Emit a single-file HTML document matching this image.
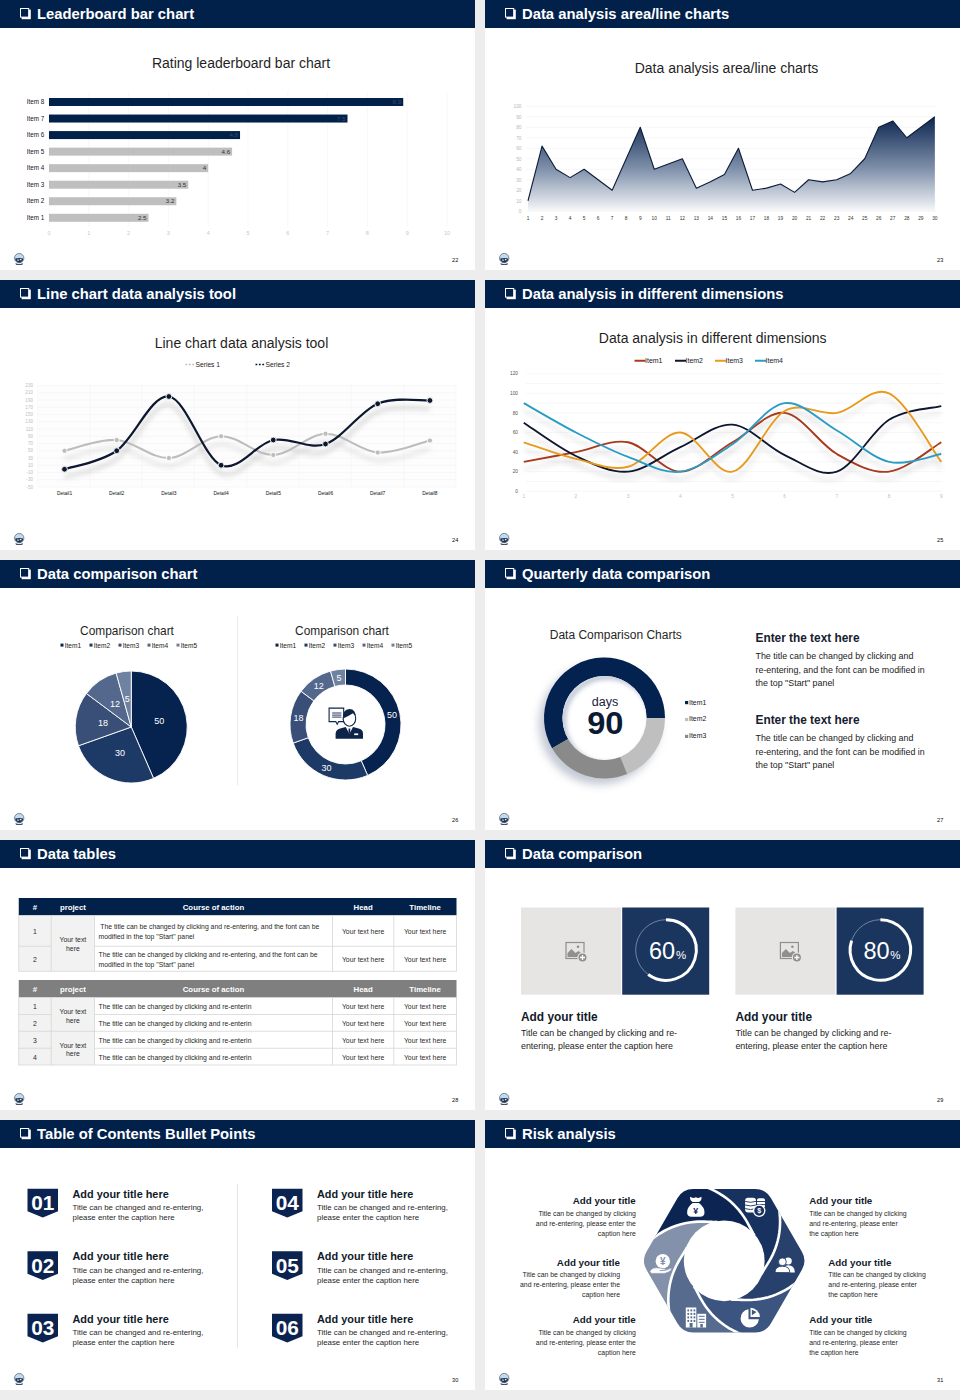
<!DOCTYPE html><html><head><meta charset="utf-8"><style>html,body{margin:0;padding:0;background:#ededed;}svg{display:block;}</style></head><body><svg width="960" height="1400" viewBox="0 0 960 1400" font-family="Liberation Sans, sans-serif">
<rect width="960" height="1400" fill="#ededed"/>
<rect x="0" y="0" width="475" height="270" fill="#fff"/>
<rect x="0" y="0" width="475" height="28" fill="#01214b"/>
<rect x="21.6" y="9.6" width="9.2" height="9.6" fill="#fff"/>
<rect x="20.5" y="8.5" width="8.2" height="8.6" fill="#01214b" stroke="#fff" stroke-width="1"/>
<text x="37" y="19.3" font-size="14.8" fill="#fff" text-anchor="start" font-weight="bold" >Leaderboard bar chart</text>
<text x="455.2" y="262.2" font-size="5.6" fill="#0a0a0a" text-anchor="middle" font-weight="normal" >22</text>
<g transform="translate(14.2,252.9)"><circle cx="5" cy="5.2" r="4.7" fill="#c3d9ee" stroke="#62707e" stroke-width="0.8"/><path d="M1 5.6 Q5 4.6 9 5.6 L8.6 7.6 Q7 9.6 5 9.8 Q3 9.6 1.4 7.6 Z" fill="#1e3352"/><path d="M3 6.6 h1.6 v1.2 h-1.6z M5.6 6.2 h1.6 v1.1 h-1.6z" fill="#e8f0f8"/><path d="M1.2 10.3 L5 11.3 L8.8 10.3 L8.2 11.8 L5 12.1 L1.8 11.8 Z" fill="#243450"/></g>
<rect x="485" y="0" width="475" height="270" fill="#fff"/>
<rect x="485" y="0" width="475" height="28" fill="#01214b"/>
<rect x="506.6" y="9.6" width="9.2" height="9.6" fill="#fff"/>
<rect x="505.5" y="8.5" width="8.2" height="8.6" fill="#01214b" stroke="#fff" stroke-width="1"/>
<text x="522" y="19.3" font-size="14.8" fill="#fff" text-anchor="start" font-weight="bold" >Data analysis area/line charts</text>
<text x="940.2" y="262.2" font-size="5.6" fill="#0a0a0a" text-anchor="middle" font-weight="normal" >23</text>
<g transform="translate(499.2,252.9)"><circle cx="5" cy="5.2" r="4.7" fill="#c3d9ee" stroke="#62707e" stroke-width="0.8"/><path d="M1 5.6 Q5 4.6 9 5.6 L8.6 7.6 Q7 9.6 5 9.8 Q3 9.6 1.4 7.6 Z" fill="#1e3352"/><path d="M3 6.6 h1.6 v1.2 h-1.6z M5.6 6.2 h1.6 v1.1 h-1.6z" fill="#e8f0f8"/><path d="M1.2 10.3 L5 11.3 L8.8 10.3 L8.2 11.8 L5 12.1 L1.8 11.8 Z" fill="#243450"/></g>
<rect x="0" y="280" width="475" height="270" fill="#fff"/>
<rect x="0" y="280" width="475" height="28" fill="#01214b"/>
<rect x="21.6" y="289.6" width="9.2" height="9.6" fill="#fff"/>
<rect x="20.5" y="288.5" width="8.2" height="8.6" fill="#01214b" stroke="#fff" stroke-width="1"/>
<text x="37" y="299.3" font-size="14.8" fill="#fff" text-anchor="start" font-weight="bold" >Line chart data analysis tool</text>
<text x="455.2" y="542.2" font-size="5.6" fill="#0a0a0a" text-anchor="middle" font-weight="normal" >24</text>
<g transform="translate(14.2,532.9)"><circle cx="5" cy="5.2" r="4.7" fill="#c3d9ee" stroke="#62707e" stroke-width="0.8"/><path d="M1 5.6 Q5 4.6 9 5.6 L8.6 7.6 Q7 9.6 5 9.8 Q3 9.6 1.4 7.6 Z" fill="#1e3352"/><path d="M3 6.6 h1.6 v1.2 h-1.6z M5.6 6.2 h1.6 v1.1 h-1.6z" fill="#e8f0f8"/><path d="M1.2 10.3 L5 11.3 L8.8 10.3 L8.2 11.8 L5 12.1 L1.8 11.8 Z" fill="#243450"/></g>
<rect x="485" y="280" width="475" height="270" fill="#fff"/>
<rect x="485" y="280" width="475" height="28" fill="#01214b"/>
<rect x="506.6" y="289.6" width="9.2" height="9.6" fill="#fff"/>
<rect x="505.5" y="288.5" width="8.2" height="8.6" fill="#01214b" stroke="#fff" stroke-width="1"/>
<text x="522" y="299.3" font-size="14.8" fill="#fff" text-anchor="start" font-weight="bold" >Data analysis in different dimensions</text>
<text x="940.2" y="542.2" font-size="5.6" fill="#0a0a0a" text-anchor="middle" font-weight="normal" >25</text>
<g transform="translate(499.2,532.9)"><circle cx="5" cy="5.2" r="4.7" fill="#c3d9ee" stroke="#62707e" stroke-width="0.8"/><path d="M1 5.6 Q5 4.6 9 5.6 L8.6 7.6 Q7 9.6 5 9.8 Q3 9.6 1.4 7.6 Z" fill="#1e3352"/><path d="M3 6.6 h1.6 v1.2 h-1.6z M5.6 6.2 h1.6 v1.1 h-1.6z" fill="#e8f0f8"/><path d="M1.2 10.3 L5 11.3 L8.8 10.3 L8.2 11.8 L5 12.1 L1.8 11.8 Z" fill="#243450"/></g>
<rect x="0" y="560" width="475" height="270" fill="#fff"/>
<rect x="0" y="560" width="475" height="28" fill="#01214b"/>
<rect x="21.6" y="569.6" width="9.2" height="9.6" fill="#fff"/>
<rect x="20.5" y="568.5" width="8.2" height="8.6" fill="#01214b" stroke="#fff" stroke-width="1"/>
<text x="37" y="579.3" font-size="14.8" fill="#fff" text-anchor="start" font-weight="bold" >Data comparison chart</text>
<text x="455.2" y="822.2" font-size="5.6" fill="#0a0a0a" text-anchor="middle" font-weight="normal" >26</text>
<g transform="translate(14.2,812.9)"><circle cx="5" cy="5.2" r="4.7" fill="#c3d9ee" stroke="#62707e" stroke-width="0.8"/><path d="M1 5.6 Q5 4.6 9 5.6 L8.6 7.6 Q7 9.6 5 9.8 Q3 9.6 1.4 7.6 Z" fill="#1e3352"/><path d="M3 6.6 h1.6 v1.2 h-1.6z M5.6 6.2 h1.6 v1.1 h-1.6z" fill="#e8f0f8"/><path d="M1.2 10.3 L5 11.3 L8.8 10.3 L8.2 11.8 L5 12.1 L1.8 11.8 Z" fill="#243450"/></g>
<rect x="485" y="560" width="475" height="270" fill="#fff"/>
<rect x="485" y="560" width="475" height="28" fill="#01214b"/>
<rect x="506.6" y="569.6" width="9.2" height="9.6" fill="#fff"/>
<rect x="505.5" y="568.5" width="8.2" height="8.6" fill="#01214b" stroke="#fff" stroke-width="1"/>
<text x="522" y="579.3" font-size="14.8" fill="#fff" text-anchor="start" font-weight="bold" >Quarterly data comparison</text>
<text x="940.2" y="822.2" font-size="5.6" fill="#0a0a0a" text-anchor="middle" font-weight="normal" >27</text>
<g transform="translate(499.2,812.9)"><circle cx="5" cy="5.2" r="4.7" fill="#c3d9ee" stroke="#62707e" stroke-width="0.8"/><path d="M1 5.6 Q5 4.6 9 5.6 L8.6 7.6 Q7 9.6 5 9.8 Q3 9.6 1.4 7.6 Z" fill="#1e3352"/><path d="M3 6.6 h1.6 v1.2 h-1.6z M5.6 6.2 h1.6 v1.1 h-1.6z" fill="#e8f0f8"/><path d="M1.2 10.3 L5 11.3 L8.8 10.3 L8.2 11.8 L5 12.1 L1.8 11.8 Z" fill="#243450"/></g>
<rect x="0" y="840" width="475" height="270" fill="#fff"/>
<rect x="0" y="840" width="475" height="28" fill="#01214b"/>
<rect x="21.6" y="849.6" width="9.2" height="9.6" fill="#fff"/>
<rect x="20.5" y="848.5" width="8.2" height="8.6" fill="#01214b" stroke="#fff" stroke-width="1"/>
<text x="37" y="859.3" font-size="14.8" fill="#fff" text-anchor="start" font-weight="bold" >Data tables</text>
<text x="455.2" y="1102.2" font-size="5.6" fill="#0a0a0a" text-anchor="middle" font-weight="normal" >28</text>
<g transform="translate(14.2,1092.9)"><circle cx="5" cy="5.2" r="4.7" fill="#c3d9ee" stroke="#62707e" stroke-width="0.8"/><path d="M1 5.6 Q5 4.6 9 5.6 L8.6 7.6 Q7 9.6 5 9.8 Q3 9.6 1.4 7.6 Z" fill="#1e3352"/><path d="M3 6.6 h1.6 v1.2 h-1.6z M5.6 6.2 h1.6 v1.1 h-1.6z" fill="#e8f0f8"/><path d="M1.2 10.3 L5 11.3 L8.8 10.3 L8.2 11.8 L5 12.1 L1.8 11.8 Z" fill="#243450"/></g>
<rect x="485" y="840" width="475" height="270" fill="#fff"/>
<rect x="485" y="840" width="475" height="28" fill="#01214b"/>
<rect x="506.6" y="849.6" width="9.2" height="9.6" fill="#fff"/>
<rect x="505.5" y="848.5" width="8.2" height="8.6" fill="#01214b" stroke="#fff" stroke-width="1"/>
<text x="522" y="859.3" font-size="14.8" fill="#fff" text-anchor="start" font-weight="bold" >Data comparison</text>
<text x="940.2" y="1102.2" font-size="5.6" fill="#0a0a0a" text-anchor="middle" font-weight="normal" >29</text>
<g transform="translate(499.2,1092.9)"><circle cx="5" cy="5.2" r="4.7" fill="#c3d9ee" stroke="#62707e" stroke-width="0.8"/><path d="M1 5.6 Q5 4.6 9 5.6 L8.6 7.6 Q7 9.6 5 9.8 Q3 9.6 1.4 7.6 Z" fill="#1e3352"/><path d="M3 6.6 h1.6 v1.2 h-1.6z M5.6 6.2 h1.6 v1.1 h-1.6z" fill="#e8f0f8"/><path d="M1.2 10.3 L5 11.3 L8.8 10.3 L8.2 11.8 L5 12.1 L1.8 11.8 Z" fill="#243450"/></g>
<rect x="0" y="1120" width="475" height="270" fill="#fff"/>
<rect x="0" y="1120" width="475" height="28" fill="#01214b"/>
<rect x="21.6" y="1129.6" width="9.2" height="9.6" fill="#fff"/>
<rect x="20.5" y="1128.5" width="8.2" height="8.6" fill="#01214b" stroke="#fff" stroke-width="1"/>
<text x="37" y="1139.3" font-size="14.8" fill="#fff" text-anchor="start" font-weight="bold" >Table of Contents Bullet Points</text>
<text x="455.2" y="1382.2" font-size="5.6" fill="#0a0a0a" text-anchor="middle" font-weight="normal" >30</text>
<g transform="translate(14.2,1372.9)"><circle cx="5" cy="5.2" r="4.7" fill="#c3d9ee" stroke="#62707e" stroke-width="0.8"/><path d="M1 5.6 Q5 4.6 9 5.6 L8.6 7.6 Q7 9.6 5 9.8 Q3 9.6 1.4 7.6 Z" fill="#1e3352"/><path d="M3 6.6 h1.6 v1.2 h-1.6z M5.6 6.2 h1.6 v1.1 h-1.6z" fill="#e8f0f8"/><path d="M1.2 10.3 L5 11.3 L8.8 10.3 L8.2 11.8 L5 12.1 L1.8 11.8 Z" fill="#243450"/></g>
<rect x="485" y="1120" width="475" height="270" fill="#fff"/>
<rect x="485" y="1120" width="475" height="28" fill="#01214b"/>
<rect x="506.6" y="1129.6" width="9.2" height="9.6" fill="#fff"/>
<rect x="505.5" y="1128.5" width="8.2" height="8.6" fill="#01214b" stroke="#fff" stroke-width="1"/>
<text x="522" y="1139.3" font-size="14.8" fill="#fff" text-anchor="start" font-weight="bold" >Risk analysis</text>
<text x="940.2" y="1382.2" font-size="5.6" fill="#0a0a0a" text-anchor="middle" font-weight="normal" >31</text>
<g transform="translate(499.2,1372.9)"><circle cx="5" cy="5.2" r="4.7" fill="#c3d9ee" stroke="#62707e" stroke-width="0.8"/><path d="M1 5.6 Q5 4.6 9 5.6 L8.6 7.6 Q7 9.6 5 9.8 Q3 9.6 1.4 7.6 Z" fill="#1e3352"/><path d="M3 6.6 h1.6 v1.2 h-1.6z M5.6 6.2 h1.6 v1.1 h-1.6z" fill="#e8f0f8"/><path d="M1.2 10.3 L5 11.3 L8.8 10.3 L8.2 11.8 L5 12.1 L1.8 11.8 Z" fill="#243450"/></g>
<g transform="translate(0,0)">
<text x="241" y="67.5" font-size="14" fill="#1f1f1f" text-anchor="middle" font-weight="normal" >Rating leaderboard bar chart</text>
<line x1="49" y1="92" x2="49" y2="227" stroke="#f6f6f6" stroke-width="0.8"/>
<text x="49" y="235" font-size="5.5" fill="#c8c8c8" text-anchor="middle" font-weight="normal" >0</text>
<line x1="88.8" y1="92" x2="88.8" y2="227" stroke="#f6f6f6" stroke-width="0.8"/>
<text x="88.8" y="235" font-size="5.5" fill="#c8c8c8" text-anchor="middle" font-weight="normal" >1</text>
<line x1="128.6" y1="92" x2="128.6" y2="227" stroke="#f6f6f6" stroke-width="0.8"/>
<text x="128.6" y="235" font-size="5.5" fill="#c8c8c8" text-anchor="middle" font-weight="normal" >2</text>
<line x1="168.4" y1="92" x2="168.4" y2="227" stroke="#f6f6f6" stroke-width="0.8"/>
<text x="168.4" y="235" font-size="5.5" fill="#c8c8c8" text-anchor="middle" font-weight="normal" >3</text>
<line x1="208.2" y1="92" x2="208.2" y2="227" stroke="#f6f6f6" stroke-width="0.8"/>
<text x="208.2" y="235" font-size="5.5" fill="#c8c8c8" text-anchor="middle" font-weight="normal" >4</text>
<line x1="248" y1="92" x2="248" y2="227" stroke="#f6f6f6" stroke-width="0.8"/>
<text x="248" y="235" font-size="5.5" fill="#c8c8c8" text-anchor="middle" font-weight="normal" >5</text>
<line x1="287.8" y1="92" x2="287.8" y2="227" stroke="#f6f6f6" stroke-width="0.8"/>
<text x="287.8" y="235" font-size="5.5" fill="#c8c8c8" text-anchor="middle" font-weight="normal" >6</text>
<line x1="327.6" y1="92" x2="327.6" y2="227" stroke="#f6f6f6" stroke-width="0.8"/>
<text x="327.6" y="235" font-size="5.5" fill="#c8c8c8" text-anchor="middle" font-weight="normal" >7</text>
<line x1="367.4" y1="92" x2="367.4" y2="227" stroke="#f6f6f6" stroke-width="0.8"/>
<text x="367.4" y="235" font-size="5.5" fill="#c8c8c8" text-anchor="middle" font-weight="normal" >8</text>
<line x1="407.2" y1="92" x2="407.2" y2="227" stroke="#f6f6f6" stroke-width="0.8"/>
<text x="407.2" y="235" font-size="5.5" fill="#c8c8c8" text-anchor="middle" font-weight="normal" >9</text>
<line x1="447" y1="92" x2="447" y2="227" stroke="#f6f6f6" stroke-width="0.8"/>
<text x="447" y="235" font-size="5.5" fill="#c8c8c8" text-anchor="middle" font-weight="normal" >10</text>
<rect x="49" y="98" width="354.22" height="8" fill="#01214b"/>
<text x="44.2" y="104.1" font-size="6.3" fill="#151515" text-anchor="end" font-weight="normal" >Item 8</text>
<text x="401.22" y="104.2" font-size="6.2" fill="#3a4a66" text-anchor="end" font-weight="normal" >8.9</text>
<rect x="49" y="114.54" width="298.5" height="8" fill="#01214b"/>
<text x="44.2" y="120.64" font-size="6.3" fill="#151515" text-anchor="end" font-weight="normal" >Item 7</text>
<text x="345.5" y="120.74" font-size="6.2" fill="#3a4a66" text-anchor="end" font-weight="normal" >7.5</text>
<rect x="49" y="131.08" width="191.04" height="8" fill="#01214b"/>
<text x="44.2" y="137.18" font-size="6.3" fill="#151515" text-anchor="end" font-weight="normal" >Item 6</text>
<text x="238.04" y="137.28" font-size="6.2" fill="#3a4a66" text-anchor="end" font-weight="normal" >4.8</text>
<rect x="49" y="147.62" width="183.08" height="8" fill="#bfbfbf"/>
<text x="44.2" y="153.72" font-size="6.3" fill="#151515" text-anchor="end" font-weight="normal" >Item 5</text>
<text x="230.08" y="153.82" font-size="6.2" fill="#333" text-anchor="end" font-weight="normal" >4.6</text>
<rect x="49" y="164.16" width="159.2" height="8" fill="#bfbfbf"/>
<text x="44.2" y="170.26" font-size="6.3" fill="#151515" text-anchor="end" font-weight="normal" >Item 4</text>
<text x="206.2" y="170.36" font-size="6.2" fill="#333" text-anchor="end" font-weight="normal" >4</text>
<rect x="49" y="180.7" width="139.3" height="8" fill="#bfbfbf"/>
<text x="44.2" y="186.8" font-size="6.3" fill="#151515" text-anchor="end" font-weight="normal" >Item 3</text>
<text x="186.3" y="186.9" font-size="6.2" fill="#333" text-anchor="end" font-weight="normal" >3.5</text>
<rect x="49" y="197.24" width="127.36" height="8" fill="#bfbfbf"/>
<text x="44.2" y="203.34" font-size="6.3" fill="#151515" text-anchor="end" font-weight="normal" >Item 2</text>
<text x="174.36" y="203.44" font-size="6.2" fill="#333" text-anchor="end" font-weight="normal" >3.2</text>
<rect x="49" y="213.78" width="99.5" height="8" fill="#bfbfbf"/>
<text x="44.2" y="219.88" font-size="6.3" fill="#151515" text-anchor="end" font-weight="normal" >Item 1</text>
<text x="146.5" y="219.98" font-size="6.2" fill="#333" text-anchor="end" font-weight="normal" >2.5</text>
</g>
<g transform="translate(485,0)">
<defs><linearGradient id="ag" x1="0" y1="0" x2="0" y2="1"><stop offset="0" stop-color="#0c2550"/><stop offset="0.55" stop-color="#7f90aa"/><stop offset="1" stop-color="#f7f8fa"/></linearGradient></defs>
<text x="241.5" y="72.5" font-size="14" fill="#1f1f1f" text-anchor="middle" font-weight="normal" >Data analysis area/line charts</text>
<line x1="41" y1="211.25" x2="451" y2="211.25" stroke="#f4f4f4" stroke-width="0.8"/>
<text x="36.5" y="213.05" font-size="4.8" fill="#b8b8b8" text-anchor="end" font-weight="normal" >0</text>
<line x1="41" y1="200.75" x2="451" y2="200.75" stroke="#f4f4f4" stroke-width="0.8"/>
<text x="36.5" y="202.55" font-size="4.8" fill="#b8b8b8" text-anchor="end" font-weight="normal" >10</text>
<line x1="41" y1="190.25" x2="451" y2="190.25" stroke="#f4f4f4" stroke-width="0.8"/>
<text x="36.5" y="192.05" font-size="4.8" fill="#b8b8b8" text-anchor="end" font-weight="normal" >20</text>
<line x1="41" y1="179.75" x2="451" y2="179.75" stroke="#f4f4f4" stroke-width="0.8"/>
<text x="36.5" y="181.55" font-size="4.8" fill="#b8b8b8" text-anchor="end" font-weight="normal" >30</text>
<line x1="41" y1="169.25" x2="451" y2="169.25" stroke="#f4f4f4" stroke-width="0.8"/>
<text x="36.5" y="171.05" font-size="4.8" fill="#b8b8b8" text-anchor="end" font-weight="normal" >40</text>
<line x1="41" y1="158.75" x2="451" y2="158.75" stroke="#f4f4f4" stroke-width="0.8"/>
<text x="36.5" y="160.55" font-size="4.8" fill="#b8b8b8" text-anchor="end" font-weight="normal" >50</text>
<line x1="41" y1="148.25" x2="451" y2="148.25" stroke="#f4f4f4" stroke-width="0.8"/>
<text x="36.5" y="150.05" font-size="4.8" fill="#b8b8b8" text-anchor="end" font-weight="normal" >60</text>
<line x1="41" y1="137.75" x2="451" y2="137.75" stroke="#f4f4f4" stroke-width="0.8"/>
<text x="36.5" y="139.55" font-size="4.8" fill="#b8b8b8" text-anchor="end" font-weight="normal" >70</text>
<line x1="41" y1="127.25" x2="451" y2="127.25" stroke="#f4f4f4" stroke-width="0.8"/>
<text x="36.5" y="129.05" font-size="4.8" fill="#b8b8b8" text-anchor="end" font-weight="normal" >80</text>
<line x1="41" y1="116.75" x2="451" y2="116.75" stroke="#f4f4f4" stroke-width="0.8"/>
<text x="36.5" y="118.55" font-size="4.8" fill="#b8b8b8" text-anchor="end" font-weight="normal" >90</text>
<line x1="41" y1="106.25" x2="451" y2="106.25" stroke="#f4f4f4" stroke-width="0.8"/>
<text x="36.5" y="108.05" font-size="4.8" fill="#b8b8b8" text-anchor="end" font-weight="normal" >100</text>
<path d="M43.00 200.75 L57.03 146.15 L71.06 169.25 L85.09 177.65 L99.12 169.25 L113.15 179.75 L127.18 190.25 L141.21 158.75 L155.24 127.25 L169.27 169.25 L183.30 164.00 L197.33 158.75 L211.36 188.15 L225.39 181.85 L239.42 174.50 L253.45 148.25 L267.48 190.25 L281.51 188.15 L295.54 183.95 L309.57 192.35 L323.60 179.75 L337.63 181.85 L351.66 179.75 L365.69 173.45 L379.72 158.75 L393.75 127.25 L407.78 120.95 L421.81 137.75 L435.84 127.25 L449.87 116.75 L449.87 211.25 L43.00 211.25 Z" fill="url(#ag)"/>
<path d="M43.00 200.75 L57.03 146.15 L71.06 169.25 L85.09 177.65 L99.12 169.25 L113.15 179.75 L127.18 190.25 L141.21 158.75 L155.24 127.25 L169.27 169.25 L183.30 164.00 L197.33 158.75 L211.36 188.15 L225.39 181.85 L239.42 174.50 L253.45 148.25 L267.48 190.25 L281.51 188.15 L295.54 183.95 L309.57 192.35 L323.60 179.75 L337.63 181.85 L351.66 179.75 L365.69 173.45 L379.72 158.75 L393.75 127.25 L407.78 120.95 L421.81 137.75 L435.84 127.25 L449.87 116.75" fill="none" stroke="#0c1c38" stroke-width="1.1" stroke-linejoin="round"/>
<text x="43" y="219.5" font-size="4.8" fill="#333" text-anchor="middle" font-weight="normal" >1</text>
<text x="57.03" y="219.5" font-size="4.8" fill="#333" text-anchor="middle" font-weight="normal" >2</text>
<text x="71.06" y="219.5" font-size="4.8" fill="#333" text-anchor="middle" font-weight="normal" >3</text>
<text x="85.09" y="219.5" font-size="4.8" fill="#333" text-anchor="middle" font-weight="normal" >4</text>
<text x="99.12" y="219.5" font-size="4.8" fill="#333" text-anchor="middle" font-weight="normal" >5</text>
<text x="113.15" y="219.5" font-size="4.8" fill="#333" text-anchor="middle" font-weight="normal" >6</text>
<text x="127.18" y="219.5" font-size="4.8" fill="#333" text-anchor="middle" font-weight="normal" >7</text>
<text x="141.21" y="219.5" font-size="4.8" fill="#333" text-anchor="middle" font-weight="normal" >8</text>
<text x="155.24" y="219.5" font-size="4.8" fill="#333" text-anchor="middle" font-weight="normal" >9</text>
<text x="169.27" y="219.5" font-size="4.8" fill="#333" text-anchor="middle" font-weight="normal" >10</text>
<text x="183.3" y="219.5" font-size="4.8" fill="#333" text-anchor="middle" font-weight="normal" >11</text>
<text x="197.33" y="219.5" font-size="4.8" fill="#333" text-anchor="middle" font-weight="normal" >12</text>
<text x="211.36" y="219.5" font-size="4.8" fill="#333" text-anchor="middle" font-weight="normal" >13</text>
<text x="225.39" y="219.5" font-size="4.8" fill="#333" text-anchor="middle" font-weight="normal" >14</text>
<text x="239.42" y="219.5" font-size="4.8" fill="#333" text-anchor="middle" font-weight="normal" >15</text>
<text x="253.45" y="219.5" font-size="4.8" fill="#333" text-anchor="middle" font-weight="normal" >16</text>
<text x="267.48" y="219.5" font-size="4.8" fill="#333" text-anchor="middle" font-weight="normal" >17</text>
<text x="281.51" y="219.5" font-size="4.8" fill="#333" text-anchor="middle" font-weight="normal" >18</text>
<text x="295.54" y="219.5" font-size="4.8" fill="#333" text-anchor="middle" font-weight="normal" >19</text>
<text x="309.57" y="219.5" font-size="4.8" fill="#333" text-anchor="middle" font-weight="normal" >20</text>
<text x="323.6" y="219.5" font-size="4.8" fill="#333" text-anchor="middle" font-weight="normal" >21</text>
<text x="337.63" y="219.5" font-size="4.8" fill="#333" text-anchor="middle" font-weight="normal" >22</text>
<text x="351.66" y="219.5" font-size="4.8" fill="#333" text-anchor="middle" font-weight="normal" >23</text>
<text x="365.69" y="219.5" font-size="4.8" fill="#333" text-anchor="middle" font-weight="normal" >24</text>
<text x="379.72" y="219.5" font-size="4.8" fill="#333" text-anchor="middle" font-weight="normal" >25</text>
<text x="393.75" y="219.5" font-size="4.8" fill="#333" text-anchor="middle" font-weight="normal" >26</text>
<text x="407.78" y="219.5" font-size="4.8" fill="#333" text-anchor="middle" font-weight="normal" >27</text>
<text x="421.81" y="219.5" font-size="4.8" fill="#333" text-anchor="middle" font-weight="normal" >28</text>
<text x="435.84" y="219.5" font-size="4.8" fill="#333" text-anchor="middle" font-weight="normal" >29</text>
<text x="449.87" y="219.5" font-size="4.8" fill="#333" text-anchor="middle" font-weight="normal" >30</text>
</g>
<g transform="translate(0,280)">
<defs><filter id="shd" x="-10%" y="-30%" width="120%" height="160%"><feGaussianBlur stdDeviation="2.6"/></filter></defs>
<text x="241.5" y="68" font-size="14" fill="#1f1f1f" text-anchor="middle" font-weight="normal" >Line chart data analysis tool</text>
<line x1="185.5" y1="84.5" x2="195" y2="84.5" stroke="#bdbdbd" stroke-width="1.3" stroke-dasharray="1.8 1.6"/>
<text x="195.5" y="86.8" font-size="6.7" fill="#1a1a1a" text-anchor="start" font-weight="normal" >Series 1</text>
<line x1="255.5" y1="84.5" x2="265" y2="84.5" stroke="#0d1730" stroke-width="1.7" stroke-dasharray="1.8 1.6"/>
<text x="265.5" y="86.8" font-size="6.7" fill="#1a1a1a" text-anchor="start" font-weight="normal" >Series 2</text>
<rect x="37.5" y="105.5" width="418.5" height="101.5" fill="#fdfdfd"/>
<line x1="37.5" y1="105.5" x2="456" y2="105.5" stroke="#f3f3f3" stroke-width="0.7"/>
<text x="33" y="107.2" font-size="4.6" fill="#bdbdbd" text-anchor="end" font-weight="normal" >230</text>
<line x1="37.5" y1="112.75" x2="456" y2="112.75" stroke="#f3f3f3" stroke-width="0.7"/>
<text x="33" y="114.45" font-size="4.6" fill="#bdbdbd" text-anchor="end" font-weight="normal" >210</text>
<line x1="37.5" y1="120" x2="456" y2="120" stroke="#f3f3f3" stroke-width="0.7"/>
<text x="33" y="121.7" font-size="4.6" fill="#bdbdbd" text-anchor="end" font-weight="normal" >190</text>
<line x1="37.5" y1="127.25" x2="456" y2="127.25" stroke="#f3f3f3" stroke-width="0.7"/>
<text x="33" y="128.95" font-size="4.6" fill="#bdbdbd" text-anchor="end" font-weight="normal" >170</text>
<line x1="37.5" y1="134.5" x2="456" y2="134.5" stroke="#f3f3f3" stroke-width="0.7"/>
<text x="33" y="136.2" font-size="4.6" fill="#bdbdbd" text-anchor="end" font-weight="normal" >150</text>
<line x1="37.5" y1="141.75" x2="456" y2="141.75" stroke="#f3f3f3" stroke-width="0.7"/>
<text x="33" y="143.45" font-size="4.6" fill="#bdbdbd" text-anchor="end" font-weight="normal" >130</text>
<line x1="37.5" y1="149" x2="456" y2="149" stroke="#f3f3f3" stroke-width="0.7"/>
<text x="33" y="150.7" font-size="4.6" fill="#bdbdbd" text-anchor="end" font-weight="normal" >110</text>
<line x1="37.5" y1="156.25" x2="456" y2="156.25" stroke="#f3f3f3" stroke-width="0.7"/>
<text x="33" y="157.95" font-size="4.6" fill="#bdbdbd" text-anchor="end" font-weight="normal" >90</text>
<line x1="37.5" y1="163.5" x2="456" y2="163.5" stroke="#f3f3f3" stroke-width="0.7"/>
<text x="33" y="165.2" font-size="4.6" fill="#bdbdbd" text-anchor="end" font-weight="normal" >70</text>
<line x1="37.5" y1="170.75" x2="456" y2="170.75" stroke="#f3f3f3" stroke-width="0.7"/>
<text x="33" y="172.45" font-size="4.6" fill="#bdbdbd" text-anchor="end" font-weight="normal" >50</text>
<line x1="37.5" y1="178" x2="456" y2="178" stroke="#f3f3f3" stroke-width="0.7"/>
<text x="33" y="179.7" font-size="4.6" fill="#bdbdbd" text-anchor="end" font-weight="normal" >30</text>
<line x1="37.5" y1="185.25" x2="456" y2="185.25" stroke="#f3f3f3" stroke-width="0.7"/>
<text x="33" y="186.95" font-size="4.6" fill="#bdbdbd" text-anchor="end" font-weight="normal" >10</text>
<line x1="37.5" y1="192.5" x2="456" y2="192.5" stroke="#f3f3f3" stroke-width="0.7"/>
<text x="33" y="194.2" font-size="4.6" fill="#bdbdbd" text-anchor="end" font-weight="normal" >-10</text>
<line x1="37.5" y1="199.75" x2="456" y2="199.75" stroke="#f3f3f3" stroke-width="0.7"/>
<text x="33" y="201.45" font-size="4.6" fill="#bdbdbd" text-anchor="end" font-weight="normal" >-30</text>
<line x1="37.5" y1="207" x2="456" y2="207" stroke="#f3f3f3" stroke-width="0.7"/>
<text x="33" y="208.7" font-size="4.6" fill="#bdbdbd" text-anchor="end" font-weight="normal" >-50</text>
<line x1="37.5" y1="105.5" x2="37.5" y2="207" stroke="#f7f7f7" stroke-width="0.7"/>
<line x1="89.8" y1="105.5" x2="89.8" y2="207" stroke="#f7f7f7" stroke-width="0.7"/>
<line x1="142.1" y1="105.5" x2="142.1" y2="207" stroke="#f7f7f7" stroke-width="0.7"/>
<line x1="194.4" y1="105.5" x2="194.4" y2="207" stroke="#f7f7f7" stroke-width="0.7"/>
<line x1="246.7" y1="105.5" x2="246.7" y2="207" stroke="#f7f7f7" stroke-width="0.7"/>
<line x1="299" y1="105.5" x2="299" y2="207" stroke="#f7f7f7" stroke-width="0.7"/>
<line x1="351.3" y1="105.5" x2="351.3" y2="207" stroke="#f7f7f7" stroke-width="0.7"/>
<line x1="403.6" y1="105.5" x2="403.6" y2="207" stroke="#f7f7f7" stroke-width="0.7"/>
<line x1="455.9" y1="105.5" x2="455.9" y2="207" stroke="#f7f7f7" stroke-width="0.7"/>
<g filter="url(#shd)" opacity="0.55"><path d="M64.50 170.75 C73.20 168.96 99.30 158.79 116.70 160.00 C134.10 161.21 151.50 178.62 168.90 178.00 C186.30 177.38 203.70 156.75 221.10 156.25 C238.50 155.75 255.90 175.42 273.30 175.00 C290.70 174.58 308.10 154.17 325.50 153.75 C342.90 153.33 360.30 171.38 377.70 172.50 C395.10 173.62 421.20 162.50 429.90 160.50" transform="translate(0,8)" fill="none" stroke="#c8c8c8" stroke-width="3"/><path d="M64.50 189.25 C73.20 186.17 99.30 182.88 116.70 170.75 C134.10 158.62 151.50 114.08 168.90 116.50 C186.30 118.92 203.70 178.00 221.10 185.25 C238.50 192.50 255.90 163.54 273.30 160.00 C290.70 156.46 308.10 170.04 325.50 164.00 C342.90 157.96 360.30 131.00 377.70 123.75 C395.10 116.50 421.20 121.04 429.90 120.50" transform="translate(0,8)" fill="none" stroke="#b0b0b0" stroke-width="3"/></g>
<path d="M64.50 170.75 C73.20 168.96 99.30 158.79 116.70 160.00 C134.10 161.21 151.50 178.62 168.90 178.00 C186.30 177.38 203.70 156.75 221.10 156.25 C238.50 155.75 255.90 175.42 273.30 175.00 C290.70 174.58 308.10 154.17 325.50 153.75 C342.90 153.33 360.30 171.38 377.70 172.50 C395.10 173.62 421.20 162.50 429.90 160.50" fill="none" stroke="#bdbdbd" stroke-width="2.1"/>
<circle cx="64.5" cy="170.75" r="2.6" fill="#bdbdbd" stroke="#fff" stroke-width="0.9"/>
<circle cx="116.7" cy="160" r="2.6" fill="#bdbdbd" stroke="#fff" stroke-width="0.9"/>
<circle cx="168.9" cy="178" r="2.6" fill="#bdbdbd" stroke="#fff" stroke-width="0.9"/>
<circle cx="221.1" cy="156.25" r="2.6" fill="#bdbdbd" stroke="#fff" stroke-width="0.9"/>
<circle cx="273.3" cy="175" r="2.6" fill="#bdbdbd" stroke="#fff" stroke-width="0.9"/>
<circle cx="325.5" cy="153.75" r="2.6" fill="#bdbdbd" stroke="#fff" stroke-width="0.9"/>
<circle cx="377.7" cy="172.5" r="2.6" fill="#bdbdbd" stroke="#fff" stroke-width="0.9"/>
<circle cx="429.9" cy="160.5" r="2.6" fill="#bdbdbd" stroke="#fff" stroke-width="0.9"/>
<path d="M64.50 189.25 C73.20 186.17 99.30 182.88 116.70 170.75 C134.10 158.62 151.50 114.08 168.90 116.50 C186.30 118.92 203.70 178.00 221.10 185.25 C238.50 192.50 255.90 163.54 273.30 160.00 C290.70 156.46 308.10 170.04 325.50 164.00 C342.90 157.96 360.30 131.00 377.70 123.75 C395.10 116.50 421.20 121.04 429.90 120.50" fill="none" stroke="#0d1730" stroke-width="2.2"/>
<circle cx="64.5" cy="189.25" r="2.9" fill="#0d1730" stroke="#fff" stroke-width="0.9"/>
<circle cx="116.7" cy="170.75" r="2.9" fill="#0d1730" stroke="#fff" stroke-width="0.9"/>
<circle cx="168.9" cy="116.5" r="2.9" fill="#0d1730" stroke="#fff" stroke-width="0.9"/>
<circle cx="221.1" cy="185.25" r="2.9" fill="#0d1730" stroke="#fff" stroke-width="0.9"/>
<circle cx="273.3" cy="160" r="2.9" fill="#0d1730" stroke="#fff" stroke-width="0.9"/>
<circle cx="325.5" cy="164" r="2.9" fill="#0d1730" stroke="#fff" stroke-width="0.9"/>
<circle cx="377.7" cy="123.75" r="2.9" fill="#0d1730" stroke="#fff" stroke-width="0.9"/>
<circle cx="429.9" cy="120.5" r="2.9" fill="#0d1730" stroke="#fff" stroke-width="0.9"/>
<text x="64.5" y="215" font-size="4.9" fill="#111" text-anchor="middle" font-weight="normal" >Detail1</text>
<text x="116.7" y="215" font-size="4.9" fill="#111" text-anchor="middle" font-weight="normal" >Detail2</text>
<text x="168.9" y="215" font-size="4.9" fill="#111" text-anchor="middle" font-weight="normal" >Detail3</text>
<text x="221.1" y="215" font-size="4.9" fill="#111" text-anchor="middle" font-weight="normal" >Detail4</text>
<text x="273.3" y="215" font-size="4.9" fill="#111" text-anchor="middle" font-weight="normal" >Detail5</text>
<text x="325.5" y="215" font-size="4.9" fill="#111" text-anchor="middle" font-weight="normal" >Detail6</text>
<text x="377.7" y="215" font-size="4.9" fill="#111" text-anchor="middle" font-weight="normal" >Detail7</text>
<text x="429.9" y="215" font-size="4.9" fill="#111" text-anchor="middle" font-weight="normal" >Detail8</text>
</g>
<g transform="translate(485,280)">
<text x="227.75" y="62.5" font-size="14" fill="#1f1f1f" text-anchor="middle" font-weight="normal" >Data analysis in different dimensions</text>
<line x1="149.5" y1="80.75" x2="160.5" y2="80.75" stroke="#a83a1e" stroke-width="2"/>
<text x="160" y="83.3" font-size="7" fill="#1a1a1a" text-anchor="start" font-weight="normal" >Item1</text>
<line x1="190" y1="80.75" x2="201" y2="80.75" stroke="#0d1730" stroke-width="2"/>
<text x="200.5" y="83.3" font-size="7" fill="#1a1a1a" text-anchor="start" font-weight="normal" >Item2</text>
<line x1="230" y1="80.75" x2="241" y2="80.75" stroke="#e89a1e" stroke-width="2"/>
<text x="240.5" y="83.3" font-size="7" fill="#1a1a1a" text-anchor="start" font-weight="normal" >Item3</text>
<line x1="270" y1="80.75" x2="281" y2="80.75" stroke="#2b9cc4" stroke-width="2"/>
<text x="280.5" y="83.3" font-size="7" fill="#1a1a1a" text-anchor="start" font-weight="normal" >Item4</text>
<line x1="41" y1="211.25" x2="457.5" y2="211.25" stroke="#f4f4f4" stroke-width="0.7"/>
<text x="33" y="212.95" font-size="4.8" fill="#555" text-anchor="end" font-weight="normal" >0</text>
<line x1="41" y1="201.46" x2="457.5" y2="201.46" stroke="#f4f4f4" stroke-width="0.7"/>
<line x1="41" y1="191.67" x2="457.5" y2="191.67" stroke="#f4f4f4" stroke-width="0.7"/>
<text x="33" y="193.37" font-size="4.8" fill="#555" text-anchor="end" font-weight="normal" >20</text>
<line x1="41" y1="181.88" x2="457.5" y2="181.88" stroke="#f4f4f4" stroke-width="0.7"/>
<line x1="41" y1="172.08" x2="457.5" y2="172.08" stroke="#f4f4f4" stroke-width="0.7"/>
<text x="33" y="173.78" font-size="4.8" fill="#555" text-anchor="end" font-weight="normal" >40</text>
<line x1="41" y1="162.29" x2="457.5" y2="162.29" stroke="#f4f4f4" stroke-width="0.7"/>
<line x1="41" y1="152.5" x2="457.5" y2="152.5" stroke="#f4f4f4" stroke-width="0.7"/>
<text x="33" y="154.2" font-size="4.8" fill="#555" text-anchor="end" font-weight="normal" >60</text>
<line x1="41" y1="142.71" x2="457.5" y2="142.71" stroke="#f4f4f4" stroke-width="0.7"/>
<line x1="41" y1="132.92" x2="457.5" y2="132.92" stroke="#f4f4f4" stroke-width="0.7"/>
<text x="33" y="134.62" font-size="4.8" fill="#555" text-anchor="end" font-weight="normal" >80</text>
<line x1="41" y1="123.12" x2="457.5" y2="123.12" stroke="#f4f4f4" stroke-width="0.7"/>
<line x1="41" y1="113.33" x2="457.5" y2="113.33" stroke="#f4f4f4" stroke-width="0.7"/>
<text x="33" y="115.03" font-size="4.8" fill="#555" text-anchor="end" font-weight="normal" >100</text>
<line x1="41" y1="103.54" x2="457.5" y2="103.54" stroke="#f4f4f4" stroke-width="0.7"/>
<line x1="41" y1="93.75" x2="457.5" y2="93.75" stroke="#f4f4f4" stroke-width="0.7"/>
<text x="33" y="95.45" font-size="4.8" fill="#555" text-anchor="end" font-weight="normal" >120</text>
<g filter="url(#shd)" opacity="0.25"><path d="M38.75 181.88 C47.45 180.24 73.54 175.35 90.94 172.08 C108.34 168.82 125.73 159.03 143.13 162.29 C160.53 165.56 177.92 191.67 195.32 191.67 C212.72 191.67 230.11 172.08 247.51 162.29 C264.91 152.50 282.30 130.96 299.70 132.92 C317.10 134.88 334.49 164.25 351.89 174.04 C369.29 183.83 386.68 193.62 404.08 191.67 C421.48 189.71 447.57 167.19 456.27 162.29" transform="translate(0,7)" fill="none" stroke="#999" stroke-width="2.5"/><path d="M38.75 142.71 C47.45 148.26 73.54 167.84 90.94 176.00 C108.34 184.16 125.73 193.14 143.13 191.67 C160.53 190.20 177.92 175.02 195.32 167.19 C212.72 159.35 230.11 143.36 247.51 144.67 C264.91 145.97 282.30 167.19 299.70 175.02 C317.10 182.85 334.49 197.54 351.89 191.67 C369.29 185.79 386.68 150.70 404.08 139.77 C421.48 128.84 447.57 128.35 456.27 126.06" transform="translate(0,7)" fill="none" stroke="#999" stroke-width="2.5"/><path d="M38.75 162.29 C47.45 165.07 73.54 174.86 90.94 178.94 C108.34 183.02 125.73 191.18 143.13 186.77 C160.53 182.36 177.92 151.68 195.32 152.50 C212.72 153.32 230.11 195.26 247.51 191.67 C264.91 188.08 282.30 140.75 299.70 130.96 C317.10 121.17 334.49 135.85 351.89 132.92 C369.29 129.98 386.68 105.17 404.08 113.33 C421.48 121.49 447.57 170.45 456.27 181.88" transform="translate(0,7)" fill="none" stroke="#999" stroke-width="2.5"/><path d="M38.75 123.12 C47.45 128.02 73.54 143.52 90.94 152.50 C108.34 161.48 125.73 170.45 143.13 176.98 C160.53 183.51 177.92 193.79 195.32 191.67 C212.72 189.55 230.11 175.67 247.51 164.25 C264.91 152.83 282.30 125.41 299.70 123.12 C317.10 120.84 334.49 140.75 351.89 150.54 C369.29 160.33 386.68 177.96 404.08 181.88 C421.48 185.79 447.57 175.35 456.27 174.04" transform="translate(0,7)" fill="none" stroke="#999" stroke-width="2.5"/></g>
<path d="M38.75 181.88 C47.45 180.24 73.54 175.35 90.94 172.08 C108.34 168.82 125.73 159.03 143.13 162.29 C160.53 165.56 177.92 191.67 195.32 191.67 C212.72 191.67 230.11 172.08 247.51 162.29 C264.91 152.50 282.30 130.96 299.70 132.92 C317.10 134.88 334.49 164.25 351.89 174.04 C369.29 183.83 386.68 193.62 404.08 191.67 C421.48 189.71 447.57 167.19 456.27 162.29" fill="none" stroke="#a83a1e" stroke-width="1.9"/>
<path d="M38.75 142.71 C47.45 148.26 73.54 167.84 90.94 176.00 C108.34 184.16 125.73 193.14 143.13 191.67 C160.53 190.20 177.92 175.02 195.32 167.19 C212.72 159.35 230.11 143.36 247.51 144.67 C264.91 145.97 282.30 167.19 299.70 175.02 C317.10 182.85 334.49 197.54 351.89 191.67 C369.29 185.79 386.68 150.70 404.08 139.77 C421.48 128.84 447.57 128.35 456.27 126.06" fill="none" stroke="#0d1730" stroke-width="1.9"/>
<path d="M38.75 162.29 C47.45 165.07 73.54 174.86 90.94 178.94 C108.34 183.02 125.73 191.18 143.13 186.77 C160.53 182.36 177.92 151.68 195.32 152.50 C212.72 153.32 230.11 195.26 247.51 191.67 C264.91 188.08 282.30 140.75 299.70 130.96 C317.10 121.17 334.49 135.85 351.89 132.92 C369.29 129.98 386.68 105.17 404.08 113.33 C421.48 121.49 447.57 170.45 456.27 181.88" fill="none" stroke="#e89a1e" stroke-width="1.9"/>
<path d="M38.75 123.12 C47.45 128.02 73.54 143.52 90.94 152.50 C108.34 161.48 125.73 170.45 143.13 176.98 C160.53 183.51 177.92 193.79 195.32 191.67 C212.72 189.55 230.11 175.67 247.51 164.25 C264.91 152.83 282.30 125.41 299.70 123.12 C317.10 120.84 334.49 140.75 351.89 150.54 C369.29 160.33 386.68 177.96 404.08 181.88 C421.48 185.79 447.57 175.35 456.27 174.04" fill="none" stroke="#2b9cc4" stroke-width="1.9"/>
<text x="38.75" y="217.5" font-size="4.8" fill="#c0c0c0" text-anchor="middle" font-weight="normal" >1</text>
<text x="90.94" y="217.5" font-size="4.8" fill="#c0c0c0" text-anchor="middle" font-weight="normal" >2</text>
<text x="143.13" y="217.5" font-size="4.8" fill="#c0c0c0" text-anchor="middle" font-weight="normal" >3</text>
<text x="195.32" y="217.5" font-size="4.8" fill="#c0c0c0" text-anchor="middle" font-weight="normal" >4</text>
<text x="247.51" y="217.5" font-size="4.8" fill="#c0c0c0" text-anchor="middle" font-weight="normal" >5</text>
<text x="299.7" y="217.5" font-size="4.8" fill="#c0c0c0" text-anchor="middle" font-weight="normal" >6</text>
<text x="351.89" y="217.5" font-size="4.8" fill="#c0c0c0" text-anchor="middle" font-weight="normal" >7</text>
<text x="404.08" y="217.5" font-size="4.8" fill="#c0c0c0" text-anchor="middle" font-weight="normal" >8</text>
<text x="456.27" y="217.5" font-size="4.8" fill="#c0c0c0" text-anchor="middle" font-weight="normal" >9</text>
</g>
<g transform="translate(0,560)">
<text x="127" y="75" font-size="11.9" fill="#1f1f1f" text-anchor="middle" font-weight="normal" >Comparison chart</text>
<rect x="60.5" y="83.6" width="3" height="3" fill="#06224f"/>
<text x="64.7" y="88.2" font-size="6.6" fill="#1a1a1a" text-anchor="start" font-weight="normal" >Item1</text>
<rect x="89.5" y="83.6" width="3" height="3" fill="#1d3a66"/>
<text x="93.7" y="88.2" font-size="6.6" fill="#1a1a1a" text-anchor="start" font-weight="normal" >Item2</text>
<rect x="118.5" y="83.6" width="3" height="3" fill="#394f78"/>
<text x="122.7" y="88.2" font-size="6.6" fill="#1a1a1a" text-anchor="start" font-weight="normal" >Item3</text>
<rect x="147.5" y="83.6" width="3" height="3" fill="#53688c"/>
<text x="151.7" y="88.2" font-size="6.6" fill="#1a1a1a" text-anchor="start" font-weight="normal" >Item4</text>
<rect x="176.5" y="83.6" width="3" height="3" fill="#7082a1"/>
<text x="180.7" y="88.2" font-size="6.6" fill="#1a1a1a" text-anchor="start" font-weight="normal" >Item5</text>
<path d="M131.25 167.00 L131.25 111.00 A56.00 56.00 0 0 1 153.56 218.36 Z" fill="#06224f" stroke="#fff" stroke-width="0.9" stroke-linejoin="round"/>
<text x="159.15" y="164.4" font-size="9" fill="#fff" text-anchor="middle" font-weight="normal" >50</text>
<path d="M131.25 167.00 L153.56 218.36 A56.00 56.00 0 0 1 78.48 185.75 Z" fill="#1d3a66" stroke="#fff" stroke-width="0.9" stroke-linejoin="round"/>
<text x="119.9" y="196.34" font-size="9" fill="#fff" text-anchor="middle" font-weight="normal" >30</text>
<path d="M131.25 167.00 L78.48 185.75 A56.00 56.00 0 0 1 86.40 133.47 Z" fill="#394f78" stroke="#fff" stroke-width="0.9" stroke-linejoin="round"/>
<text x="103.07" y="165.93" font-size="9" fill="#fff" text-anchor="middle" font-weight="normal" >18</text>
<path d="M131.25 167.00 L86.40 133.47 A56.00 56.00 0 0 1 116.14 113.08 Z" fill="#53688c" stroke="#fff" stroke-width="0.9" stroke-linejoin="round"/>
<text x="115.13" y="146.69" font-size="9" fill="#fff" text-anchor="middle" font-weight="normal" >12</text>
<path d="M131.25 167.00 L116.14 113.08 A56.00 56.00 0 0 1 131.25 111.00 Z" fill="#7082a1" stroke="#fff" stroke-width="0.9" stroke-linejoin="round"/>
<text x="127.37" y="141.97" font-size="9" fill="#fff" text-anchor="middle" font-weight="normal" >5</text>
<text x="342" y="75" font-size="11.9" fill="#1f1f1f" text-anchor="middle" font-weight="normal" >Comparison chart</text>
<rect x="275.5" y="83.6" width="3" height="3" fill="#06224f"/>
<text x="279.7" y="88.2" font-size="6.6" fill="#1a1a1a" text-anchor="start" font-weight="normal" >Item1</text>
<rect x="304.5" y="83.6" width="3" height="3" fill="#1d3a66"/>
<text x="308.7" y="88.2" font-size="6.6" fill="#1a1a1a" text-anchor="start" font-weight="normal" >Item2</text>
<rect x="333.5" y="83.6" width="3" height="3" fill="#394f78"/>
<text x="337.7" y="88.2" font-size="6.6" fill="#1a1a1a" text-anchor="start" font-weight="normal" >Item3</text>
<rect x="362.5" y="83.6" width="3" height="3" fill="#53688c"/>
<text x="366.7" y="88.2" font-size="6.6" fill="#1a1a1a" text-anchor="start" font-weight="normal" >Item4</text>
<rect x="391.5" y="83.6" width="3" height="3" fill="#7082a1"/>
<text x="395.7" y="88.2" font-size="6.6" fill="#1a1a1a" text-anchor="start" font-weight="normal" >Item5</text>
<path d="M345.50 109.00 A55.50 55.50 0 0 1 367.61 215.41 L361.24 200.73 A39.50 39.50 0 0 0 345.50 125.00 Z" fill="#06224f" stroke="#fff" stroke-width="0.9" stroke-linejoin="round"/>
<text x="392.01" y="158.04" font-size="9" fill="#fff" text-anchor="middle" font-weight="normal" >50</text>
<path d="M367.61 215.41 A55.50 55.50 0 0 1 293.20 183.09 L308.28 177.73 A39.50 39.50 0 0 0 361.24 200.73 Z" fill="#1d3a66" stroke="#fff" stroke-width="0.9" stroke-linejoin="round"/>
<text x="326.58" y="211.27" font-size="9" fill="#fff" text-anchor="middle" font-weight="normal" >30</text>
<path d="M293.20 183.09 A55.50 55.50 0 0 1 301.05 131.27 L313.86 140.85 A39.50 39.50 0 0 0 308.28 177.73 Z" fill="#394f78" stroke="#fff" stroke-width="0.9" stroke-linejoin="round"/>
<text x="298.54" y="160.59" font-size="9" fill="#fff" text-anchor="middle" font-weight="normal" >18</text>
<path d="M301.05 131.27 A55.50 55.50 0 0 1 330.53 111.06 L334.84 126.46 A39.50 39.50 0 0 0 313.86 140.85 Z" fill="#53688c" stroke="#fff" stroke-width="0.9" stroke-linejoin="round"/>
<text x="318.64" y="128.52" font-size="9" fill="#fff" text-anchor="middle" font-weight="normal" >12</text>
<path d="M330.53 111.06 A55.50 55.50 0 0 1 345.50 109.00 L345.50 125.00 A39.50 39.50 0 0 0 334.84 126.46 Z" fill="#7082a1" stroke="#fff" stroke-width="0.9" stroke-linejoin="round"/>
<text x="339.03" y="120.64" font-size="9" fill="#fff" text-anchor="middle" font-weight="normal" >5</text>
<line x1="237.5" y1="56" x2="237.5" y2="225" stroke="#e4e4e4" stroke-width="0.8"/>
<g><path d="M329.1 148.1 H343.7 V161.6 H338.6 L337.2 164.3 L335.8 161.6 H329.1 Z" fill="#fff" stroke="#0d2448" stroke-width="1.1"/><path d="M332.2 153 H341.4 M332.2 155.1 H341.4 M332.2 157.1 H341.4" stroke="#0d2448" stroke-width="0.9"/><ellipse cx="349.4" cy="158.6" rx="6.3" ry="7.6" fill="#fff" stroke="#0d2448" stroke-width="1.1"/><path d="M343.1 158.5 Q342.5 149.2 349.4 149 Q356.2 149 355.9 158.5 Q355.6 154 353 153.3 Q348 156.5 343.1 158.5 Z" fill="#0d2448"/><path d="M335.6 178.8 V173.5 Q336 169.2 341 168.2 L345.8 167 L349.4 174 L353 167 L357.8 168.2 Q363 169.2 363 173.5 V178.8 Z" fill="#0d2448"/><path d="M348.6 168.5 H350.2 L350.3 172.5 L349.4 174 L348.5 172.5 Z" fill="#0d2448"/><rect x="354.2" y="173.4" width="4" height="1.7" fill="#fff"/></g>
</g>
<g transform="translate(485,560)">
<defs><filter id="dsh" x="-40%" y="-40%" width="180%" height="180%"><feGaussianBlur stdDeviation="4"/></filter><filter id="ish" x="-40%" y="-40%" width="180%" height="180%"><feGaussianBlur stdDeviation="2.5"/></filter></defs>
<text x="130.75" y="79.25" font-size="12" fill="#262626" text-anchor="middle" font-weight="normal" >Data Comparison Charts</text>
<circle cx="114.5" cy="164" r="60.5" fill="#b9bfcc" filter="url(#dsh)" opacity="0.85"/>
<path d="M67.11 188.25 A60.50 60.50 0 1 1 180.00 158.00 L161.50 158.00 A42.00 42.00 0 1 0 83.13 179.00 Z" fill="#03224f"/>
<path d="M180.00 158.00 A60.50 60.50 0 0 1 142.16 214.09 L135.23 196.94 A42.00 42.00 0 0 0 161.50 158.00 Z" fill="#bfbfbf"/>
<path d="M142.16 214.09 A60.50 60.50 0 0 1 67.11 188.25 L83.13 179.00 A42.00 42.00 0 0 0 135.23 196.94 Z" fill="#8a8a8a"/>
<circle cx="119.5" cy="158" r="42" fill="#fff"/>
<clipPath id="holec"><circle cx="119.5" cy="158" r="42"/></clipPath>
<g clip-path="url(#holec)"><circle cx="122.5" cy="161" r="44" fill="none" stroke="#a9b3c6" stroke-width="4" filter="url(#ish)"/></g>
<text x="120" y="146" font-size="12.5" fill="#16213a" text-anchor="middle" font-weight="normal" >days</text>
<g transform="translate(120.3,173.75) scale(1.07,1)">
<text x="0" y="0" font-size="30.5" fill="#0d1a33" text-anchor="middle" font-weight="bold" >90</text>
</g>
<rect x="200" y="141" width="3.2" height="3.2" fill="#03224f"/>
<text x="204" y="144.5" font-size="6.9" fill="#151515" text-anchor="start" font-weight="normal" >Item1</text>
<rect x="200" y="157.9" width="3.2" height="3.2" fill="#bfbfbf"/>
<text x="204" y="161.4" font-size="6.9" fill="#151515" text-anchor="start" font-weight="normal" >Item2</text>
<rect x="200" y="174.8" width="3.2" height="3.2" fill="#8a8a8a"/>
<text x="204" y="178.3" font-size="6.9" fill="#151515" text-anchor="start" font-weight="normal" >Item3</text>
<text x="270.5" y="81.75" font-size="11.85" fill="#16202e" text-anchor="start" font-weight="bold" >Enter the text here</text>
<text x="270.5" y="98.75" font-size="8.9" fill="#222" text-anchor="start" font-weight="normal" >The title can be changed by clicking and</text>
<text x="270.5" y="112.5" font-size="8.9" fill="#222" text-anchor="start" font-weight="normal" >re-entering, and the font can be modified in</text>
<text x="270.5" y="126.25" font-size="8.9" fill="#222" text-anchor="start" font-weight="normal" >the top "Start" panel</text>
<text x="270.5" y="163.75" font-size="11.85" fill="#16202e" text-anchor="start" font-weight="bold" >Enter the text here</text>
<text x="270.5" y="180.75" font-size="8.9" fill="#222" text-anchor="start" font-weight="normal" >The title can be changed by clicking and</text>
<text x="270.5" y="194.5" font-size="8.9" fill="#222" text-anchor="start" font-weight="normal" >re-entering, and the font can be modified in</text>
<text x="270.5" y="208.25" font-size="8.9" fill="#222" text-anchor="start" font-weight="normal" >the top "Start" panel</text>
</g>
<g transform="translate(0,840)">
<rect x="18.75" y="58" width="437.75" height="17.5" fill="#01214b"/>
<text x="35" y="69.85" font-size="7.8" fill="#fff" text-anchor="middle" font-weight="bold" >#</text>
<text x="72.88" y="69.85" font-size="7.8" fill="#fff" text-anchor="middle" font-weight="bold" >project</text>
<text x="213.5" y="69.85" font-size="7.8" fill="#fff" text-anchor="middle" font-weight="bold" >Course of action</text>
<text x="363.12" y="69.85" font-size="7.8" fill="#fff" text-anchor="middle" font-weight="bold" >Head</text>
<text x="425.12" y="69.85" font-size="7.8" fill="#fff" text-anchor="middle" font-weight="bold" >Timeline</text>
<rect x="18.75" y="75.5" width="75.75" height="55.75" fill="#f2f2f2"/>
<rect x="94.5" y="75.5" width="362.0" height="55.75" fill="#fff"/>
<rect x="18.75" y="75.5" width="437.75" height="55.75" fill="none" stroke="#d6d6d6" stroke-width="0.8"/>
<line x1="18.75" y1="106.25" x2="51.25" y2="106.25" stroke="#d6d6d6" stroke-width="0.8"/>
<line x1="94.5" y1="106.25" x2="456.5" y2="106.25" stroke="#d6d6d6" stroke-width="0.8"/>
<line x1="51.25" y1="75.5" x2="51.25" y2="131.25" stroke="#d6d6d6" stroke-width="0.8"/>
<line x1="94.5" y1="75.5" x2="94.5" y2="131.25" stroke="#d6d6d6" stroke-width="0.8"/>
<line x1="332.5" y1="75.5" x2="332.5" y2="131.25" stroke="#d6d6d6" stroke-width="0.8"/>
<line x1="393.75" y1="75.5" x2="393.75" y2="131.25" stroke="#d6d6d6" stroke-width="0.8"/>
<text x="35" y="93.78" font-size="6.85" fill="#2a2a2a" text-anchor="middle" font-weight="normal" >1</text>
<text x="98.5" y="88.78" font-size="6.85" fill="#1f1f1f" text-anchor="start" font-weight="normal" xml:space="preserve"> The title can be changed by clicking and re-entering, and the font can be</text>
<text x="98.5" y="98.97" font-size="6.85" fill="#1f1f1f" text-anchor="start" font-weight="normal" >modified in the top "Start" panel</text>
<text x="363.12" y="93.78" font-size="6.85" fill="#2a2a2a" text-anchor="middle" font-weight="normal" >Your text here</text>
<text x="425.12" y="93.78" font-size="6.85" fill="#2a2a2a" text-anchor="middle" font-weight="normal" >Your text here</text>
<text x="35" y="121.65" font-size="6.85" fill="#2a2a2a" text-anchor="middle" font-weight="normal" >2</text>
<text x="98.5" y="116.65" font-size="6.85" fill="#1f1f1f" text-anchor="start" font-weight="normal" xml:space="preserve">The title can be changed by clicking and re-entering, and the font can be</text>
<text x="98.5" y="126.85" font-size="6.85" fill="#1f1f1f" text-anchor="start" font-weight="normal" >modified in the top "Start" panel</text>
<text x="363.12" y="121.65" font-size="6.85" fill="#2a2a2a" text-anchor="middle" font-weight="normal" >Your text here</text>
<text x="425.12" y="121.65" font-size="6.85" fill="#2a2a2a" text-anchor="middle" font-weight="normal" >Your text here</text>
<text x="72.88" y="101.75" font-size="6.85" fill="#2a2a2a" text-anchor="middle" font-weight="normal" >Your text</text>
<text x="72.88" y="110.5" font-size="6.85" fill="#2a2a2a" text-anchor="middle" font-weight="normal" >here</text>
<rect x="18.75" y="140" width="437.75" height="17.5" fill="#7f7f7f"/>
<text x="35" y="151.85" font-size="7.8" fill="#fff" text-anchor="middle" font-weight="bold" >#</text>
<text x="72.88" y="151.85" font-size="7.8" fill="#fff" text-anchor="middle" font-weight="bold" >project</text>
<text x="213.5" y="151.85" font-size="7.8" fill="#fff" text-anchor="middle" font-weight="bold" >Course of action</text>
<text x="363.12" y="151.85" font-size="7.8" fill="#fff" text-anchor="middle" font-weight="bold" >Head</text>
<text x="425.12" y="151.85" font-size="7.8" fill="#fff" text-anchor="middle" font-weight="bold" >Timeline</text>
<rect x="18.75" y="157.5" width="75.75" height="67.5" fill="#f2f2f2"/>
<rect x="18.75" y="157.5" width="437.75" height="67.5" fill="none" stroke="#d6d6d6" stroke-width="0.8"/>
<line x1="18.75" y1="174.5" x2="51.25" y2="174.5" stroke="#d6d6d6" stroke-width="0.8"/>
<line x1="94.5" y1="174.5" x2="456.5" y2="174.5" stroke="#d6d6d6" stroke-width="0.8"/>
<line x1="18.75" y1="191.25" x2="456.5" y2="191.25" stroke="#d6d6d6" stroke-width="0.8"/>
<line x1="18.75" y1="208.25" x2="51.25" y2="208.25" stroke="#d6d6d6" stroke-width="0.8"/>
<line x1="94.5" y1="208.25" x2="456.5" y2="208.25" stroke="#d6d6d6" stroke-width="0.8"/>
<line x1="51.25" y1="157.5" x2="51.25" y2="225" stroke="#d6d6d6" stroke-width="0.8"/>
<line x1="94.5" y1="157.5" x2="94.5" y2="225" stroke="#d6d6d6" stroke-width="0.8"/>
<line x1="332.5" y1="157.5" x2="332.5" y2="225" stroke="#d6d6d6" stroke-width="0.8"/>
<line x1="393.75" y1="157.5" x2="393.75" y2="225" stroke="#d6d6d6" stroke-width="0.8"/>
<text x="35" y="169.3" font-size="6.85" fill="#2a2a2a" text-anchor="middle" font-weight="normal" >1</text>
<text x="98.5" y="169.3" font-size="6.85" fill="#1f1f1f" text-anchor="start" font-weight="normal" >The title can be changed by clicking and re-enterin</text>
<text x="363.12" y="169.3" font-size="6.85" fill="#2a2a2a" text-anchor="middle" font-weight="normal" >Your text here</text>
<text x="425.12" y="169.3" font-size="6.85" fill="#2a2a2a" text-anchor="middle" font-weight="normal" >Your text here</text>
<text x="35" y="186.18" font-size="6.85" fill="#2a2a2a" text-anchor="middle" font-weight="normal" >2</text>
<text x="98.5" y="186.18" font-size="6.85" fill="#1f1f1f" text-anchor="start" font-weight="normal" >The title can be changed by clicking and re-enterin</text>
<text x="363.12" y="186.18" font-size="6.85" fill="#2a2a2a" text-anchor="middle" font-weight="normal" >Your text here</text>
<text x="425.12" y="186.18" font-size="6.85" fill="#2a2a2a" text-anchor="middle" font-weight="normal" >Your text here</text>
<text x="35" y="203.05" font-size="6.85" fill="#2a2a2a" text-anchor="middle" font-weight="normal" >3</text>
<text x="98.5" y="203.05" font-size="6.85" fill="#1f1f1f" text-anchor="start" font-weight="normal" >The title can be changed by clicking and re-enterin</text>
<text x="363.12" y="203.05" font-size="6.85" fill="#2a2a2a" text-anchor="middle" font-weight="normal" >Your text here</text>
<text x="425.12" y="203.05" font-size="6.85" fill="#2a2a2a" text-anchor="middle" font-weight="normal" >Your text here</text>
<text x="35" y="219.93" font-size="6.85" fill="#2a2a2a" text-anchor="middle" font-weight="normal" >4</text>
<text x="98.5" y="219.93" font-size="6.85" fill="#1f1f1f" text-anchor="start" font-weight="normal" >The title can be changed by clicking and re-enterin</text>
<text x="363.12" y="219.93" font-size="6.85" fill="#2a2a2a" text-anchor="middle" font-weight="normal" >Your text here</text>
<text x="425.12" y="219.93" font-size="6.85" fill="#2a2a2a" text-anchor="middle" font-weight="normal" >Your text here</text>
<text x="72.88" y="174.2" font-size="6.85" fill="#2a2a2a" text-anchor="middle" font-weight="normal" >Your text</text>
<text x="72.88" y="182.7" font-size="6.85" fill="#2a2a2a" text-anchor="middle" font-weight="normal" >here</text>
<text x="72.88" y="207.95" font-size="6.85" fill="#2a2a2a" text-anchor="middle" font-weight="normal" >Your text</text>
<text x="72.88" y="216.45" font-size="6.85" fill="#2a2a2a" text-anchor="middle" font-weight="normal" >here</text>
</g>
<g transform="translate(485,840)">
<rect x="36" y="67.5" width="100" height="87.2" fill="#e7e4e4"/>
<rect x="137.2" y="67.5" width="87" height="87.2" fill="#1a355e"/>
<circle cx="181" cy="110" r="30.3" fill="none" stroke="#6f84a6" stroke-width="1"/>
<path d="M181 79.7 A30.3 30.3 0 1 1 163.19 134.51" fill="none" stroke="#fff" stroke-width="3"/>
<text x="164" y="119.3" font-size="23.5" fill="#fff" text-anchor="start" font-weight="normal" >60<tspan font-size="11.5" dx="0.8">%</tspan></text>
<g transform="translate(80.5,102)"><rect x="0.5" y="0.5" width="18" height="16" fill="none" stroke="#8f8f8f" stroke-width="1.2"/><path d="M2 15 L2 11 L6 7 L10 11 L13 9 L17 12 L17 15 Z" fill="#8f8f8f"/><circle cx="12.5" cy="4.8" r="1.3" fill="#8f8f8f"/><circle cx="17" cy="15.5" r="4.6" fill="#8f8f8f" stroke="#e7e4e4" stroke-width="1.2"/><path d="M17 13 V18 M14.5 15.5 H19.5" stroke="#fff" stroke-width="1.3"/></g>
<text x="36" y="181.3" font-size="11.9" fill="#111a2b" text-anchor="start" font-weight="bold" >Add your title</text>
<text x="36" y="195.7" font-size="8.9" fill="#222" text-anchor="start" font-weight="normal" >Title can be changed by clicking and re-</text>
<text x="36" y="208.6" font-size="8.9" fill="#222" text-anchor="start" font-weight="normal" >entering, please enter the caption here</text>
<rect x="250.4" y="67.5" width="100" height="87.2" fill="#e7e4e4"/>
<rect x="351.6" y="67.5" width="87" height="87.2" fill="#1a355e"/>
<circle cx="395.4" cy="110" r="30.3" fill="none" stroke="#6f84a6" stroke-width="1"/>
<path d="M395.4 79.7 A30.3 30.3 0 1 1 366.58 100.64" fill="none" stroke="#fff" stroke-width="3"/>
<text x="378.4" y="119.3" font-size="23.5" fill="#fff" text-anchor="start" font-weight="normal" >80<tspan font-size="11.5" dx="0.8">%</tspan></text>
<g transform="translate(294.9,102)"><rect x="0.5" y="0.5" width="18" height="16" fill="none" stroke="#8f8f8f" stroke-width="1.2"/><path d="M2 15 L2 11 L6 7 L10 11 L13 9 L17 12 L17 15 Z" fill="#8f8f8f"/><circle cx="12.5" cy="4.8" r="1.3" fill="#8f8f8f"/><circle cx="17" cy="15.5" r="4.6" fill="#8f8f8f" stroke="#e7e4e4" stroke-width="1.2"/><path d="M17 13 V18 M14.5 15.5 H19.5" stroke="#fff" stroke-width="1.3"/></g>
<text x="250.4" y="181.3" font-size="11.9" fill="#111a2b" text-anchor="start" font-weight="bold" >Add your title</text>
<text x="250.4" y="195.7" font-size="8.9" fill="#222" text-anchor="start" font-weight="normal" >Title can be changed by clicking and re-</text>
<text x="250.4" y="208.6" font-size="8.9" fill="#222" text-anchor="start" font-weight="normal" >entering, please enter the caption here</text>
</g>
<g transform="translate(0,1120)">
<line x1="237.5" y1="64" x2="237.5" y2="227.5" stroke="#dcdcdc" stroke-width="0.8"/>
<path d="M27.5 68.75 H58.0 V91.25 L42.75 97.5 L27.5 91.25 Z" fill="#0b2350"/>
<text x="42.75" y="90.05" font-size="20.8" fill="#fff" text-anchor="middle" font-weight="bold" >01</text>
<text x="72.5" y="77.5" font-size="10.9" fill="#111a2b" text-anchor="start" font-weight="bold" >Add your title here</text>
<text x="72.5" y="90" font-size="7.9" fill="#1f1f1f" text-anchor="start" font-weight="normal" >Title can be changed and re-entering,</text>
<text x="72.5" y="100" font-size="7.9" fill="#1f1f1f" text-anchor="start" font-weight="normal" >please enter the caption here</text>
<path d="M27.5 131.25 H58.0 V153.75 L42.75 160.0 L27.5 153.75 Z" fill="#0b2350"/>
<text x="42.75" y="152.55" font-size="20.8" fill="#fff" text-anchor="middle" font-weight="bold" >02</text>
<text x="72.5" y="140" font-size="10.9" fill="#111a2b" text-anchor="start" font-weight="bold" >Add your title here</text>
<text x="72.5" y="152.5" font-size="7.9" fill="#1f1f1f" text-anchor="start" font-weight="normal" >Title can be changed and re-entering,</text>
<text x="72.5" y="162.5" font-size="7.9" fill="#1f1f1f" text-anchor="start" font-weight="normal" >please enter the caption here</text>
<path d="M27.5 193.75 H58.0 V216.25 L42.75 222.5 L27.5 216.25 Z" fill="#0b2350"/>
<text x="42.75" y="215.05" font-size="20.8" fill="#fff" text-anchor="middle" font-weight="bold" >03</text>
<text x="72.5" y="202.5" font-size="10.9" fill="#111a2b" text-anchor="start" font-weight="bold" >Add your title here</text>
<text x="72.5" y="215" font-size="7.9" fill="#1f1f1f" text-anchor="start" font-weight="normal" >Title can be changed and re-entering,</text>
<text x="72.5" y="225" font-size="7.9" fill="#1f1f1f" text-anchor="start" font-weight="normal" >please enter the caption here</text>
<path d="M272 68.75 H302.5 V91.25 L287.25 97.5 L272 91.25 Z" fill="#0b2350"/>
<text x="287.25" y="90.05" font-size="20.8" fill="#fff" text-anchor="middle" font-weight="bold" >04</text>
<text x="317" y="77.5" font-size="10.9" fill="#111a2b" text-anchor="start" font-weight="bold" >Add your title here</text>
<text x="317" y="90" font-size="7.9" fill="#1f1f1f" text-anchor="start" font-weight="normal" >Title can be changed and re-entering,</text>
<text x="317" y="100" font-size="7.9" fill="#1f1f1f" text-anchor="start" font-weight="normal" >please enter the caption here</text>
<path d="M272 131.25 H302.5 V153.75 L287.25 160.0 L272 153.75 Z" fill="#0b2350"/>
<text x="287.25" y="152.55" font-size="20.8" fill="#fff" text-anchor="middle" font-weight="bold" >05</text>
<text x="317" y="140" font-size="10.9" fill="#111a2b" text-anchor="start" font-weight="bold" >Add your title here</text>
<text x="317" y="152.5" font-size="7.9" fill="#1f1f1f" text-anchor="start" font-weight="normal" >Title can be changed and re-entering,</text>
<text x="317" y="162.5" font-size="7.9" fill="#1f1f1f" text-anchor="start" font-weight="normal" >please enter the caption here</text>
<path d="M272 193.75 H302.5 V216.25 L287.25 222.5 L272 216.25 Z" fill="#0b2350"/>
<text x="287.25" y="215.05" font-size="20.8" fill="#fff" text-anchor="middle" font-weight="bold" >06</text>
<text x="317" y="202.5" font-size="10.9" fill="#111a2b" text-anchor="start" font-weight="bold" >Add your title here</text>
<text x="317" y="215" font-size="7.9" fill="#1f1f1f" text-anchor="start" font-weight="normal" >Title can be changed and re-entering,</text>
<text x="317" y="225" font-size="7.9" fill="#1f1f1f" text-anchor="start" font-weight="normal" >please enter the caption here</text>
</g>
<g transform="translate(485,1120)">
<defs><clipPath id="hexc"><path d="M161.49 149.80 A18.00 18.00 0 0 1 161.49 131.80 L192.55 78.00 A18.00 18.00 0 0 1 208.14 69.00 L270.26 69.00 A18.00 18.00 0 0 1 285.85 78.00 L316.91 131.80 A18.00 18.00 0 0 1 316.91 149.80 L285.85 203.60 A18.00 18.00 0 0 1 270.26 212.60 L208.14 212.60 A18.00 18.00 0 0 1 192.55 203.60 Z"/></clipPath></defs>
<g clip-path="url(#hexc)">
<path d="M239.20 140.80 L232.32 101.80 L229.96 101.95 L227.50 101.92 L224.92 101.83 L222.20 101.71 L219.34 101.62 L216.34 101.59 L213.17 101.66 L209.85 101.85 L206.38 102.20 L202.75 102.73 L198.99 103.47 L195.11 104.45 L191.11 105.70 L187.01 107.23 L182.85 109.08 L178.62 111.26 L174.38 113.78 L170.13 116.68 L165.91 119.96 L161.76 123.63 L157.70 127.71 L153.77 132.20 L150.00 137.10 L146.44 142.42 L191.42 61.27 L197.80 61.70 L203.93 62.51 L209.79 63.67 L215.35 65.15 L220.61 66.91 L225.55 68.92 L230.19 71.15 L234.50 73.57 L238.49 76.13 L242.18 78.82 L245.55 81.60 L248.63 84.44 L251.42 87.32 L253.95 90.20 L256.22 93.07 L258.26 95.91 L260.08 98.69 L261.72 101.40 L263.20 104.02 L264.55 106.54 L265.81 108.94 L267.02 111.23 L268.22 113.38 L269.54 115.35 Z" fill="#0b2452"/>
<path d="M239.20 140.80 L269.54 115.35 L268.22 113.38 L267.02 111.23 L265.81 108.94 L264.55 106.54 L263.20 104.02 L261.72 101.40 L260.08 98.69 L258.26 95.91 L256.22 93.07 L253.95 90.20 L251.42 87.32 L248.63 84.44 L245.55 81.60 L242.18 78.82 L238.49 76.13 L234.50 73.57 L230.19 71.15 L225.55 68.92 L220.61 66.91 L215.35 65.15 L209.79 63.67 L203.93 62.51 L197.80 61.70 L191.42 61.27 L284.18 59.65 L287.00 65.40 L289.37 71.11 L291.29 76.76 L292.79 82.32 L293.89 87.75 L294.62 93.04 L295.01 98.17 L295.07 103.11 L294.85 107.86 L294.36 112.39 L293.64 116.70 L292.72 120.79 L291.63 124.65 L290.39 128.27 L289.04 131.67 L287.61 134.86 L286.11 137.83 L284.59 140.60 L283.06 143.19 L281.55 145.63 L280.09 147.92 L278.72 150.11 L277.46 152.22 L276.41 154.34 Z" fill="#17325f"/>
<path d="M239.20 140.80 L276.41 154.34 L277.46 152.22 L278.72 150.11 L280.09 147.92 L281.55 145.63 L283.06 143.19 L284.59 140.60 L286.11 137.83 L287.61 134.86 L289.04 131.67 L290.39 128.27 L291.63 124.65 L292.72 120.79 L293.64 116.70 L294.36 112.39 L294.85 107.86 L295.07 103.11 L295.01 98.17 L294.62 93.04 L293.89 87.75 L292.79 82.32 L291.29 76.76 L289.37 71.11 L287.00 65.40 L284.18 59.65 L331.96 139.18 L328.40 144.50 L324.63 149.40 L320.70 153.89 L316.64 157.97 L312.49 161.64 L308.27 164.92 L304.02 167.82 L299.78 170.34 L295.55 172.52 L291.39 174.37 L287.29 175.90 L283.29 177.15 L279.41 178.13 L275.65 178.87 L272.02 179.40 L268.55 179.75 L265.23 179.94 L262.06 180.01 L259.06 179.98 L256.20 179.89 L253.48 179.77 L250.90 179.68 L248.44 179.65 L246.08 179.80 Z" fill="#27416c"/>
<path d="M239.20 140.80 L246.08 179.80 L248.44 179.65 L250.90 179.68 L253.48 179.77 L256.20 179.89 L259.06 179.98 L262.06 180.01 L265.23 179.94 L268.55 179.75 L272.02 179.40 L275.65 178.87 L279.41 178.13 L283.29 177.15 L287.29 175.90 L291.39 174.37 L295.55 172.52 L299.78 170.34 L304.02 167.82 L308.27 164.92 L312.49 161.64 L316.64 157.97 L320.70 153.89 L324.63 149.40 L328.40 144.50 L331.96 139.18 L286.98 220.33 L280.60 219.90 L274.47 219.09 L268.61 217.93 L263.05 216.45 L257.79 214.69 L252.85 212.68 L248.21 210.45 L243.90 208.03 L239.91 205.47 L236.22 202.78 L232.85 200.00 L229.77 197.16 L226.98 194.28 L224.45 191.40 L222.18 188.53 L220.14 185.69 L218.32 182.91 L216.68 180.20 L215.20 177.58 L213.85 175.06 L212.59 172.66 L211.38 170.37 L210.18 168.22 L208.86 166.25 Z" fill="#3b5480"/>
<path d="M239.20 140.80 L208.86 166.25 L210.18 168.22 L211.38 170.37 L212.59 172.66 L213.85 175.06 L215.20 177.58 L216.68 180.20 L218.32 182.91 L220.14 185.69 L222.18 188.53 L224.45 191.40 L226.98 194.28 L229.77 197.16 L232.85 200.00 L236.22 202.78 L239.91 205.47 L243.90 208.03 L248.21 210.45 L252.85 212.68 L257.79 214.69 L263.05 216.45 L268.61 217.93 L274.47 219.09 L280.60 219.90 L286.98 220.33 L194.22 221.95 L191.40 216.20 L189.03 210.49 L187.11 204.84 L185.61 199.28 L184.51 193.85 L183.78 188.56 L183.39 183.43 L183.33 178.49 L183.55 173.74 L184.04 169.21 L184.76 164.90 L185.68 160.81 L186.77 156.95 L188.01 153.33 L189.36 149.93 L190.79 146.74 L192.29 143.77 L193.81 141.00 L195.34 138.41 L196.85 135.97 L198.31 133.68 L199.68 131.49 L200.94 129.38 L201.99 127.26 Z" fill="#566b8e"/>
<path d="M239.20 140.80 L201.99 127.26 L200.94 129.38 L199.68 131.49 L198.31 133.68 L196.85 135.97 L195.34 138.41 L193.81 141.00 L192.29 143.77 L190.79 146.74 L189.36 149.93 L188.01 153.33 L186.77 156.95 L185.68 160.81 L184.76 164.90 L184.04 169.21 L183.55 173.74 L183.33 178.49 L183.39 183.43 L183.78 188.56 L184.51 193.85 L185.61 199.28 L187.11 204.84 L189.03 210.49 L191.40 216.20 L194.22 221.95 L146.44 142.42 L150.00 137.10 L153.77 132.20 L157.70 127.71 L161.76 123.63 L165.91 119.96 L170.13 116.68 L174.38 113.78 L178.62 111.26 L182.85 109.08 L187.01 107.23 L191.11 105.70 L195.11 104.45 L198.99 103.47 L202.75 102.73 L206.38 102.20 L209.85 101.85 L213.17 101.66 L216.34 101.59 L219.34 101.62 L222.20 101.71 L224.92 101.83 L227.50 101.92 L229.96 101.95 L232.32 101.80 Z" fill="#8391ab"/>
<path d="M269.54 115.35 L268.22 113.38 L267.02 111.23 L265.81 108.94 L264.55 106.54 L263.20 104.02 L261.72 101.40 L260.08 98.69 L258.26 95.91 L256.22 93.07 L253.95 90.20 L251.42 87.32 L248.63 84.44 L245.55 81.60 L242.18 78.82 L238.49 76.13 L234.50 73.57 L230.19 71.15 L225.55 68.92 L220.61 66.91 L215.35 65.15 L209.79 63.67 L203.93 62.51 L197.80 61.70 L191.42 61.27" fill="none" stroke="#fff" stroke-width="2.6"/>
<path d="M276.41 154.34 L277.46 152.22 L278.72 150.11 L280.09 147.92 L281.55 145.63 L283.06 143.19 L284.59 140.60 L286.11 137.83 L287.61 134.86 L289.04 131.67 L290.39 128.27 L291.63 124.65 L292.72 120.79 L293.64 116.70 L294.36 112.39 L294.85 107.86 L295.07 103.11 L295.01 98.17 L294.62 93.04 L293.89 87.75 L292.79 82.32 L291.29 76.76 L289.37 71.11 L287.00 65.40 L284.18 59.65" fill="none" stroke="#fff" stroke-width="2.6"/>
<path d="M246.08 179.80 L248.44 179.65 L250.90 179.68 L253.48 179.77 L256.20 179.89 L259.06 179.98 L262.06 180.01 L265.23 179.94 L268.55 179.75 L272.02 179.40 L275.65 178.87 L279.41 178.13 L283.29 177.15 L287.29 175.90 L291.39 174.37 L295.55 172.52 L299.78 170.34 L304.02 167.82 L308.27 164.92 L312.49 161.64 L316.64 157.97 L320.70 153.89 L324.63 149.40 L328.40 144.50 L331.96 139.18" fill="none" stroke="#fff" stroke-width="2.6"/>
<path d="M208.86 166.25 L210.18 168.22 L211.38 170.37 L212.59 172.66 L213.85 175.06 L215.20 177.58 L216.68 180.20 L218.32 182.91 L220.14 185.69 L222.18 188.53 L224.45 191.40 L226.98 194.28 L229.77 197.16 L232.85 200.00 L236.22 202.78 L239.91 205.47 L243.90 208.03 L248.21 210.45 L252.85 212.68 L257.79 214.69 L263.05 216.45 L268.61 217.93 L274.47 219.09 L280.60 219.90 L286.98 220.33" fill="none" stroke="#fff" stroke-width="2.6"/>
<path d="M201.99 127.26 L200.94 129.38 L199.68 131.49 L198.31 133.68 L196.85 135.97 L195.34 138.41 L193.81 141.00 L192.29 143.77 L190.79 146.74 L189.36 149.93 L188.01 153.33 L186.77 156.95 L185.68 160.81 L184.76 164.90 L184.04 169.21 L183.55 173.74 L183.33 178.49 L183.39 183.43 L183.78 188.56 L184.51 193.85 L185.61 199.28 L187.11 204.84 L189.03 210.49 L191.40 216.20 L194.22 221.95" fill="none" stroke="#fff" stroke-width="2.6"/>
<path d="M232.32 101.80 L229.96 101.95 L227.50 101.92 L224.92 101.83 L222.20 101.71 L219.34 101.62 L216.34 101.59 L213.17 101.66 L209.85 101.85 L206.38 102.20 L202.75 102.73 L198.99 103.47 L195.11 104.45 L191.11 105.70 L187.01 107.23 L182.85 109.08 L178.62 111.26 L174.38 113.78 L170.13 116.68 L165.91 119.96 L161.76 123.63 L157.70 127.71 L153.77 132.20 L150.00 137.10 L146.44 142.42" fill="none" stroke="#fff" stroke-width="2.6"/>
<circle cx="239.2" cy="140.8" r="40.4" fill="#fff"/>
</g>
<g transform="translate(210.8,90)"><path d="M-5.6 -13.2 Q-2.8 -11.2 0 -12.8 Q2.8 -11.2 5.6 -13.2 Q6.4 -9.6 3.2 -8 H-3.2 Q-6.4 -9.6 -5.6 -13.2 Z" fill="#fff"/><path d="M-3.2 -7 H3.2 Q9 -2.5 8.7 2.8 Q8.5 6.8 4.2 6.8 H-4.2 Q-8.5 6.8 -8.7 2.8 Q-9 -2.5 -3.2 -7 Z" fill="#fff"/><text x="0" y="3.6" font-size="8.8" fill="#0b2452" text-anchor="middle" font-weight="bold">¥</text></g>
<g><rect x="260.1" y="77.8" width="10.9" height="14.6" rx="3" fill="#fff"/><path d="M260.1 81.4 Q265.5 83.2 271 81.4 M260.1 85 Q265.5 86.8 271 85 M260.1 88.6 Q265.5 90.4 271 88.6" stroke="#17325f" stroke-width="0.9" fill="none"/><rect x="272" y="78.3" width="8" height="9.6" rx="2" fill="#fff"/><path d="M272 81.5 H280 M272 84.6 H280" stroke="#17325f" stroke-width="0.9"/><circle cx="274.2" cy="90.8" r="5.6" fill="#17325f" stroke="#fff" stroke-width="1.3"/><text x="274.2" y="93.4" font-size="7.2" fill="#fff" text-anchor="middle" font-weight="bold">$</text></g>
<g transform="translate(300,145)" fill="#fff"><circle cx="3.2" cy="-4" r="3.6"/><path d="M-2.5 7.5 Q-2.5 0.2 3.2 0.2 Q9.8 0.2 9.8 7.5 Z"/><circle cx="-2.6" cy="-3.2" r="3.9" stroke="#27416c" stroke-width="0.9"/><path d="M-10 7.6 Q-10 1.2 -2.6 1.2 Q4.8 1.2 4.8 7.6 Z" stroke="#27416c" stroke-width="0.9"/></g>
<g transform="translate(264.3,198.3)"><path d="M-0.8 -9 A9.2 9.2 0 1 0 9.6 1 H-0.8 Z" fill="#fff"/><path d="M1.2 -10.6 V-1.2 H10.6 A9.6 9.6 0 0 0 1.2 -10.6 Z" fill="#fff"/><path d="M2.6 -8.6 L7.2 -6.4 L2.6 -3 Z" fill="#3b5480"/></g>
<g transform="translate(210.8,198)" fill="#fff"><rect x="-10" y="-10.5" width="10.5" height="20"/><rect x="1.5" y="-4.2" width="8.8" height="13.7"/><rect x="-8.4" y="-8.6" width="1.7" height="2" fill="#566b8e"/><rect x="-8.4" y="-5.1" width="1.7" height="2" fill="#566b8e"/><rect x="-8.4" y="-1.5999999999999996" width="1.7" height="2" fill="#566b8e"/><rect x="-8.4" y="1.9000000000000004" width="1.7" height="2" fill="#566b8e"/><rect x="-5.300000000000001" y="-8.6" width="1.7" height="2" fill="#566b8e"/><rect x="-5.300000000000001" y="-5.1" width="1.7" height="2" fill="#566b8e"/><rect x="-5.300000000000001" y="-1.5999999999999996" width="1.7" height="2" fill="#566b8e"/><rect x="-5.300000000000001" y="1.9000000000000004" width="1.7" height="2" fill="#566b8e"/><rect x="-2.2" y="-8.6" width="1.7" height="2" fill="#566b8e"/><rect x="-2.2" y="-5.1" width="1.7" height="2" fill="#566b8e"/><rect x="-2.2" y="-1.5999999999999996" width="1.7" height="2" fill="#566b8e"/><rect x="-2.2" y="1.9000000000000004" width="1.7" height="2" fill="#566b8e"/><rect x="3" y="-2.2" width="5.8" height="1" fill="#566b8e"/><rect x="3" y="0.8" width="5.8" height="1" fill="#566b8e"/><rect x="3" y="3.8" width="5.8" height="1" fill="#566b8e"/><rect x="-6.2" y="5" width="3" height="4.5" fill="#566b8e"/><rect x="4.5" y="6" width="2.5" height="3.5" fill="#566b8e"/></g>
<g transform="translate(175.8,144.2)"><circle cx="2" cy="-3" r="7.2" fill="#fff"/><text x="2" y="0.6" font-size="10" fill="#8391ab" text-anchor="middle" font-weight="bold">¥</text><path d="M-11 7 Q-8.5 2.8 -4 3.6 L3.5 4.4 Q6 5 4.6 6.2 L-1 6.4 L6.5 5.6 Q10 3.2 11 4.6 Q9 8.6 3.5 9.2 H-9.5 Z" fill="#fff" stroke="#8391ab" stroke-width="0.6"/></g>
<text x="150.8" y="84.2" font-size="9.8" fill="#111a2b" text-anchor="end" font-weight="bold" >Add your title</text>
<text x="150.8" y="95.8" font-size="6.9" fill="#262626" text-anchor="end" font-weight="normal" >Title can be changed by clicking</text>
<text x="150.8" y="105.8" font-size="6.9" fill="#262626" text-anchor="end" font-weight="normal" >and re-entering, please enter the</text>
<text x="150.8" y="115.8" font-size="6.9" fill="#262626" text-anchor="end" font-weight="normal" >caption here</text>
<text x="135" y="145.8" font-size="9.8" fill="#111a2b" text-anchor="end" font-weight="bold" >Add your title</text>
<text x="135" y="157.4" font-size="6.9" fill="#262626" text-anchor="end" font-weight="normal" >Title can be changed by clicking</text>
<text x="135" y="167.4" font-size="6.9" fill="#262626" text-anchor="end" font-weight="normal" >and re-entering, please enter the</text>
<text x="135" y="177.4" font-size="6.9" fill="#262626" text-anchor="end" font-weight="normal" >caption here</text>
<text x="150.8" y="203.3" font-size="9.8" fill="#111a2b" text-anchor="end" font-weight="bold" >Add your title</text>
<text x="150.8" y="214.9" font-size="6.9" fill="#262626" text-anchor="end" font-weight="normal" >Title can be changed by clicking</text>
<text x="150.8" y="224.9" font-size="6.9" fill="#262626" text-anchor="end" font-weight="normal" >and re-entering, please enter the</text>
<text x="150.8" y="234.9" font-size="6.9" fill="#262626" text-anchor="end" font-weight="normal" >caption here</text>
<text x="324.2" y="84.2" font-size="9.8" fill="#111a2b" text-anchor="start" font-weight="bold" >Add your title</text>
<text x="324.2" y="95.8" font-size="6.9" fill="#262626" text-anchor="start" font-weight="normal" >Title can be changed by clicking</text>
<text x="324.2" y="105.8" font-size="6.9" fill="#262626" text-anchor="start" font-weight="normal" >and re-entering, please enter</text>
<text x="324.2" y="115.8" font-size="6.9" fill="#262626" text-anchor="start" font-weight="normal" >the caption here</text>
<text x="343.3" y="145.8" font-size="9.8" fill="#111a2b" text-anchor="start" font-weight="bold" >Add your title</text>
<text x="343.3" y="157.4" font-size="6.9" fill="#262626" text-anchor="start" font-weight="normal" >Title can be changed by clicking</text>
<text x="343.3" y="167.4" font-size="6.9" fill="#262626" text-anchor="start" font-weight="normal" >and re-entering, please enter</text>
<text x="343.3" y="177.4" font-size="6.9" fill="#262626" text-anchor="start" font-weight="normal" >the caption here</text>
<text x="324.2" y="203.3" font-size="9.8" fill="#111a2b" text-anchor="start" font-weight="bold" >Add your title</text>
<text x="324.2" y="214.9" font-size="6.9" fill="#262626" text-anchor="start" font-weight="normal" >Title can be changed by clicking</text>
<text x="324.2" y="224.9" font-size="6.9" fill="#262626" text-anchor="start" font-weight="normal" >and re-entering, please enter</text>
<text x="324.2" y="234.9" font-size="6.9" fill="#262626" text-anchor="start" font-weight="normal" >the caption here</text>
</g>
</svg></body></html>
